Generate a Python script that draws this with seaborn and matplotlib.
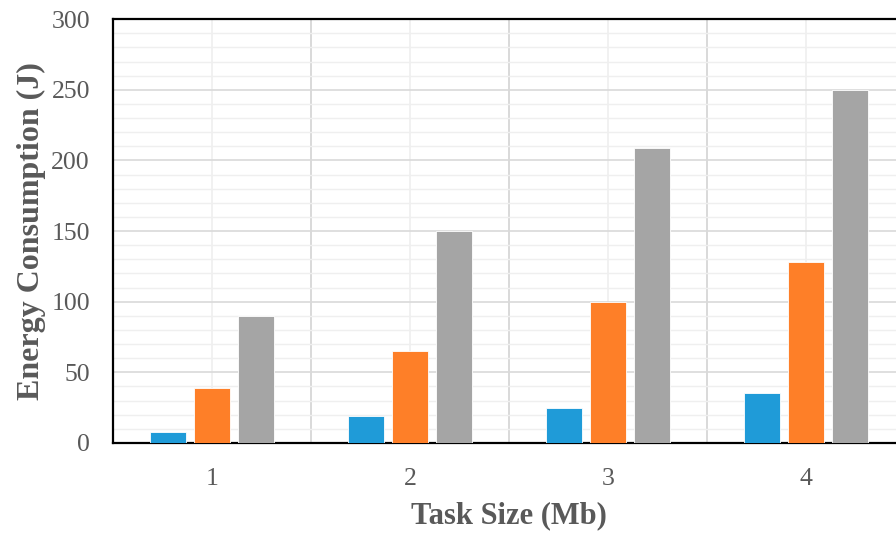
import pandas as pd
import matplotlib.pyplot as plt
import seaborn as sns
from matplotlib.ticker import MultipleLocator

# data
task_sizes = ["1", "2", "3", "4"]
series_names = ["Series 1", "Series 2", "Series 3"]
series_1 = [8, 19, 25, 35]
series_2 = [39, 65, 100, 128]
series_3 = [90, 150, 209, 250]
colors = ["#1f9bd8", "#fe7f28", "#a5a5a5"]

df = pd.DataFrame({
    "Task Size": task_sizes * 3,
    "Series": [s for s in series_names for _ in task_sizes],
    "Energy": series_1 + series_2 + series_3,
})

sns.set_style("white")
plt.rcParams["font.family"] = ["Liberation Serif", "DejaVu Serif"]

fig = plt.figure(figsize=(8.96, 5.33), dpi=100)
ax = fig.add_axes([0.126, 0.169, 0.884, 0.795])

sns.barplot(data=df, x="Task Size", y="Energy", hue="Series", order=task_sizes,
            hue_order=series_names, palette=colors, saturation=1, width=0.667, gap=0.18,
            edgecolor="white", linewidth=0.6, legend=False, ax=ax, zorder=3)

# grid: light minor lines, slightly darker major ones
ax.set_ylim(0, 300)
ax.set_xlim(-0.5, 3.5)
ax.yaxis.set_major_locator(MultipleLocator(50))
ax.yaxis.set_minor_locator(MultipleLocator(10))
ax.set_xticks([0, 1, 2, 3])
ax.set_xticks([0.5, 1.5, 2.5], minor=True)
ax.grid(which="major", axis="y", color="#d9d9d9", linewidth=1.2, zorder=0)
ax.grid(which="minor", axis="y", color="#efefef", linewidth=1.0, zorder=0)
ax.grid(which="major", axis="x", color="#efefef", linewidth=1.2, zorder=0)
ax.grid(which="minor", axis="x", color="#d9d9d9", linewidth=1.4, zorder=0)
ax.set_axisbelow(True)

for side in ["left", "bottom", "top"]:
    ax.spines[side].set_color("black")
    ax.spines[side].set_linewidth(1.6)
ax.spines["right"].set_visible(False)

ax.tick_params(axis="both", which="both", length=0, labelsize=18.5, colors="#595959")
ax.tick_params(axis="y", pad=16.5)
ax.tick_params(axis="x", pad=18)

ax.set_xlabel("Task Size (Mb)", fontsize=22, fontweight="bold", color="#595959", labelpad=8)
ax.set_ylabel("Energy Consumption (J)", fontsize=23, fontweight="bold", color="#595959", labelpad=4)

plt.savefig("out.png", dpi=100)
